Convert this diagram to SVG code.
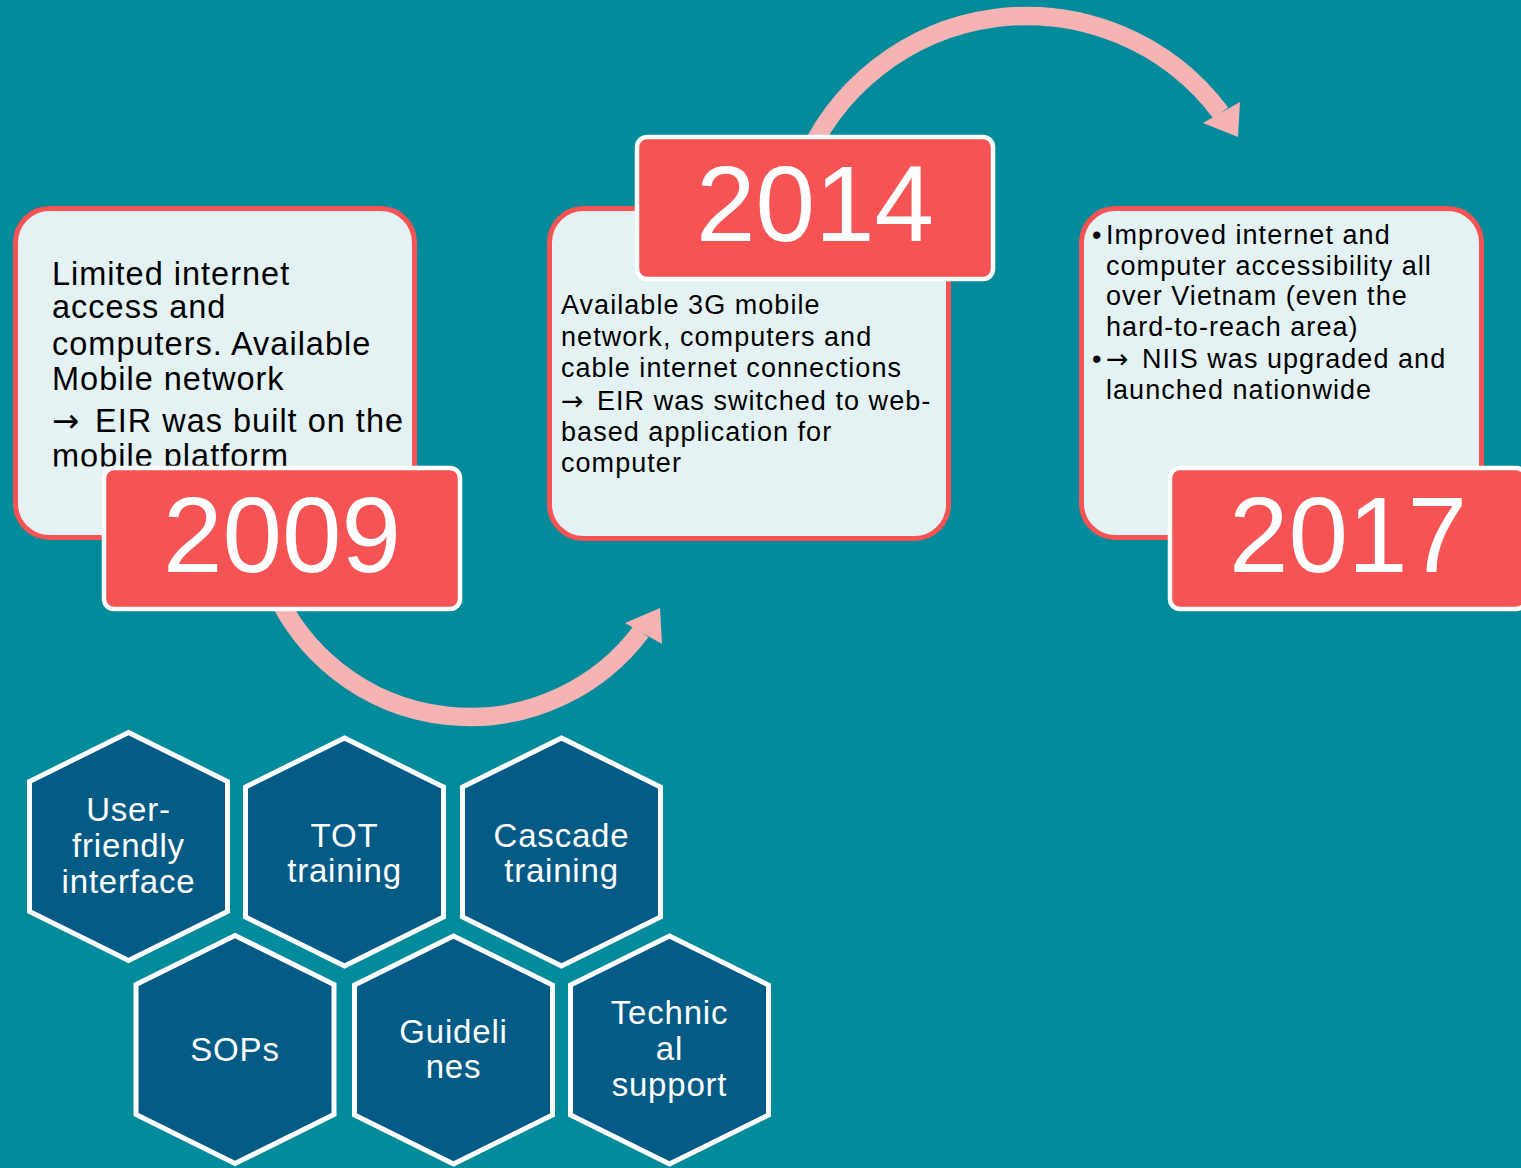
<svg xmlns="http://www.w3.org/2000/svg" width="1521" height="1168" viewBox="0 0 1521 1168">
  <style>
    .card { fill: #E4F2F3; stroke: #F55354; stroke-width: 5; }
    .year { fill: #F55354; stroke: #FFFFFF; stroke-width: 4.5; }
    .yeartxt { font-family: "Liberation Sans", Arial, sans-serif; font-size: 107px; fill: #FFFFFF; text-anchor: middle; }
    .body { font-family: "Liberation Sans", Arial, sans-serif; fill: #000000; }
    .b1 { font-size: 32.5px; letter-spacing: 1px; }
    .b2 { font-size: 27px; letter-spacing: 1.05px; }
    .arw { font-family: "DejaVu Sans", sans-serif; letter-spacing: 0px; }
    .hex { fill: #035B86; stroke: #FFFFFF; stroke-width: 5; stroke-linejoin: miter; }
    .hextxt { font-family: "Liberation Sans", Arial, sans-serif; font-size: 33px; letter-spacing: 0.8px; fill: #FFFFFF; text-anchor: middle; }
    .arc { fill: none; stroke: #F6B3B4; stroke-width: 18.5; }
    .head { fill: #F6B3B4; }
  </style>
  <defs>
    <polygon id="hexshape" points="0,-114 99,-65 99,65 0,114 -99,65 -99,-65"/>
    <clipPath id="clip2009">
      <rect x="18" y="212" width="395" height="254.5"/>
    </clipPath>
  </defs>
  <rect x="0" y="0" width="1521" height="1168" fill="#028B9B"/>

  <g id="connectors">
    <path class="arc" d="M 274.5 590 A 214 214 0 0 0 641 631.6"/>
    <polygon class="head" points="625,623 662,644 660,608"/>
    <path class="arc" d="M 801.6 170 A 242 242 0 0 1 1220.8 113"/>
    <polygon class="head" points="1203,123 1240,102 1238,137"/>
  </g>

  <g id="node-2009">
    <rect class="card" x="15.5" y="208.5" width="399" height="329" rx="34"/>
    <g clip-path="url(#clip2009)">
      <text class="body b1" x="52">
        <tspan x="52" y="285">Limited internet</tspan>
        <tspan x="52" y="318">access and</tspan>
        <tspan x="52" y="355">computers. Available</tspan>
        <tspan x="52" y="390">Mobile network</tspan>
        <tspan x="52" y="432" class="arw">→</tspan><tspan x="95" y="432">EIR was built on the</tspan>
        <tspan x="52" y="467">mobile platform</tspan>
      </text>
    </g>
    <rect class="year" x="104" y="468" width="356" height="141" rx="10"/>
    <text class="yeartxt" x="282" y="572">2009</text>
  </g>

  <g id="node-2014">
    <rect class="card" x="549.5" y="208.5" width="399" height="330" rx="34"/>
    <text class="body b2">
      <tspan x="561" y="314">Available 3G mobile</tspan>
      <tspan x="561" y="345.5">network, computers and</tspan>
      <tspan x="561" y="377">cable internet connections</tspan>
      <tspan x="561" y="410" class="arw">→</tspan><tspan x="597" y="410">EIR was switched to web-</tspan>
      <tspan x="561" y="441">based application for</tspan>
      <tspan x="561" y="472">computer</tspan>
    </text>
    <rect class="year" x="637" y="137" width="356" height="142" rx="10"/>
    <text class="yeartxt" x="815" y="241">2014</text>
  </g>

  <g id="node-2017">
    <rect class="card" x="1081.5" y="208.5" width="400" height="329" rx="34"/>
    <text class="body b2">
      <tspan x="1092" y="244">•</tspan><tspan x="1106" y="244">Improved internet and</tspan>
      <tspan x="1106" y="274.5">computer accessibility all</tspan>
      <tspan x="1106" y="305">over Vietnam (even the</tspan>
      <tspan x="1106" y="335.5">hard-to-reach area)</tspan>
      <tspan x="1092" y="368">•</tspan><tspan x="1106" y="368" class="arw">→</tspan><tspan x="1142" y="368">NIIS was upgraded and</tspan>
      <tspan x="1106" y="399">launched nationwide</tspan>
    </text>
    <rect class="year" x="1170" y="468" width="356" height="141" rx="10"/>
    <text class="yeartxt" x="1348" y="572">2017</text>
  </g>

  <g id="hex-user-friendly">
    <use href="#hexshape" class="hex" x="128.5" y="846.5"/>
    <text class="hextxt"><tspan x="128.5" y="821">User-</tspan><tspan x="128.5" y="857">friendly</tspan><tspan x="128.5" y="893">interface</tspan></text>
  </g>
  <g id="hex-tot">
    <use href="#hexshape" class="hex" x="344.5" y="852"/>
    <text class="hextxt"><tspan x="344.5" y="847">TOT</tspan><tspan x="344.5" y="882">training</tspan></text>
  </g>
  <g id="hex-cascade">
    <use href="#hexshape" class="hex" x="561.5" y="852"/>
    <text class="hextxt"><tspan x="561.5" y="847">Cascade</tspan><tspan x="561.5" y="882">training</tspan></text>
  </g>
  <g id="hex-sops">
    <use href="#hexshape" class="hex" x="235" y="1049.5"/>
    <text class="hextxt"><tspan x="235" y="1061">SOPs</tspan></text>
  </g>
  <g id="hex-guidelines">
    <use href="#hexshape" class="hex" x="453.5" y="1050"/>
    <text class="hextxt"><tspan x="453.5" y="1043">Guideli</tspan><tspan x="453.5" y="1078">nes</tspan></text>
  </g>
  <g id="hex-technical">
    <use href="#hexshape" class="hex" x="669.5" y="1050"/>
    <text class="hextxt"><tspan x="669.5" y="1024">Technic</tspan><tspan x="669.5" y="1060">al</tspan><tspan x="669.5" y="1096">support</tspan></text>
  </g>
</svg>
